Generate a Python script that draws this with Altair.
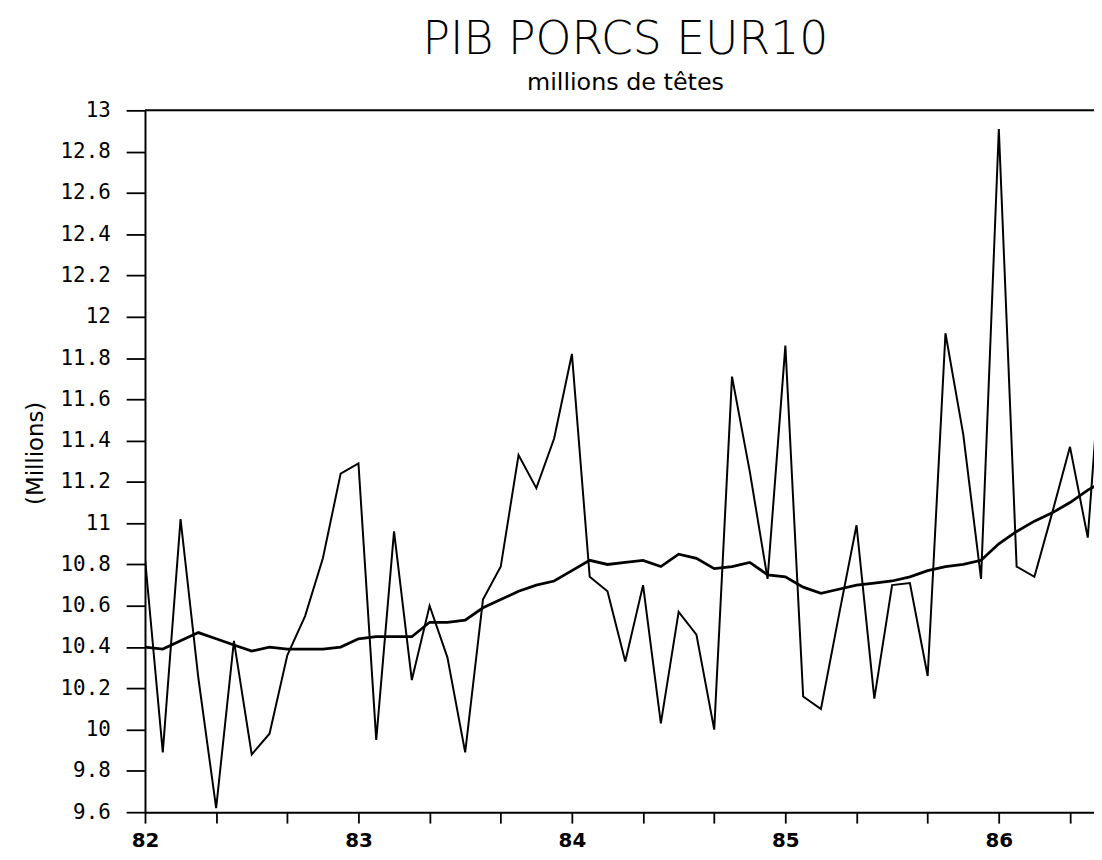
import altair as alt
import pandas as pd

# Monthly index, 0 = January 1982
month_index = list(range(55))

# Monthly series (jagged line), millions of heads
pib_monthly = [
    10.83, 9.89, 11.02, 10.25, 9.62, 10.43, 9.88, 9.98, 10.36, 10.55, 10.83, 11.24,
    11.29, 9.95, 10.96, 10.24, 10.60, 10.35, 9.89, 10.63, 10.79, 11.33, 11.17, 11.41,
    11.82, 10.74, 10.67, 10.33, 10.70, 10.03, 10.57, 10.46, 10.00, 11.71, 11.25, 10.73,
    11.86, 10.16, 10.10, 10.55, 10.99, 10.15, 10.70, 10.71, 10.26, 11.92, 11.43, 10.73,
    12.91, 10.79, 10.74, 11.05, 11.37, 10.93, 12.10,
]

# Smoothed trend (heavier line)
pib_trend = [
    10.40, 10.39, 10.43, 10.47, 10.44, 10.41, 10.38, 10.40, 10.39, 10.39, 10.39, 10.40,
    10.44, 10.45, 10.45, 10.45, 10.52, 10.52, 10.53, 10.59, 10.63, 10.67, 10.70, 10.72,
    10.77, 10.82, 10.80, 10.81, 10.82, 10.79, 10.85, 10.83, 10.78, 10.79, 10.81, 10.75,
    10.74, 10.69, 10.66, 10.68, 10.70, 10.71, 10.72, 10.74, 10.77, 10.79, 10.80, 10.82,
    10.90, 10.96, 11.01, 11.05, 11.10, 11.16, 11.21,
]

year_tick_months = [0, 12, 24, 36, 48]
year_labels = ["82", "83", "84", "85", "86"]
month_ticks = list(range(54))
y_ticks = [9.6, 9.8, 10, 10.2, 10.4, 10.6, 10.8, 11, 11.2, 11.4, 11.6, 11.8,
           12, 12.2, 12.4, 12.6, 12.8, 13]

monthly_df = pd.DataFrame({"m": month_index, "v": pib_monthly})
trend_df = pd.DataFrame({"m": month_index[:len(pib_trend)], "v": pib_trend})
frame_df = pd.DataFrame({"v": [13]})

label_expr = "''"
for m, lab in zip(reversed(year_tick_months), reversed(year_labels)):
    label_expr = f"datum.value == {m} ? '{lab}' : ({label_expr})"

FONT = "DejaVu Sans"
MONO = "DejaVu Sans Mono"

x_scale = alt.Scale(domain=[0, 53.35], nice=False, zero=False)
y_scale = alt.Scale(domain=[9.6, 13], nice=False, zero=False)

x_enc = alt.X(
    "m:Q",
    scale=x_scale,
    axis=alt.Axis(
        values=month_ticks,
        labelExpr=label_expr,
        title=None,
        grid=False,
        tickSize=11,
        tickWidth=1.8,
        tickColor="black",
        domainColor="black",
        domainWidth=2,
        labelPadding=8,
        labelFont=FONT,
        labelFontSize=20,
        labelFontWeight="bold",
        labelColor="black",
        labelOverlap=False,
        labelFlush=False,
        labelBound=False,
    ),
)

y_enc = alt.Y(
    "v:Q",
    scale=y_scale,
    axis=alt.Axis(
        values=y_ticks,
        format="~g",
        title="(Millions)",
        titleFont=FONT,
        titleFontSize=23,
        titleFontWeight="normal",
        titleColor="black",
        titleX=-110,
        titleY=345,
        titleAngle=270,
        titleAlign="center",
        titleBaseline="middle",
        grid=False,
        tickSize=19,
        tickWidth=1.8,
        tickColor="black",
        domainColor="black",
        domainWidth=2,
        labelPadding=16,
        labelFont=MONO,
        labelFontSize=21,
        labelColor="black",
        labelOverlap=False,
    ),
)

monthly = alt.Chart(monthly_df).mark_line(
    color="black", strokeWidth=2.0, clip=True
).encode(x=x_enc, y=y_enc)

trend = alt.Chart(trend_df).mark_line(
    color="black", strokeWidth=2.8, clip=True
).encode(x=alt.X("m:Q", scale=x_scale), y=alt.Y("v:Q", scale=y_scale))

frame = alt.Chart(frame_df).mark_rule(color="black", strokeWidth=2).encode(
    y=alt.Y("v:Q", scale=y_scale)
)

chart = (
    alt.layer(monthly, trend, frame)
    .properties(
        width=956,
        height=707,
        padding={"left": 138, "top": 100, "right": 0, "bottom": 36},
        autosize=alt.AutoSizeParams(type="none"),
        title=alt.TitleParams(
            text="PIB PORCS EUR10",
            subtitle="millions de têtes",
            anchor="middle",
            font=FONT,
            fontSize=46,
            fontWeight=200,
            color="black",
            subtitleFont=FONT,
            subtitleFontSize=24,
            subtitleColor="black",
            subtitlePadding=8,
            offset=3,
            dx=6,
        ),
    )
    .configure_view(stroke=None)
    .configure(background="white")
)

chart.save("out.html", embed_options={"renderer": "svg", "actions": False})
